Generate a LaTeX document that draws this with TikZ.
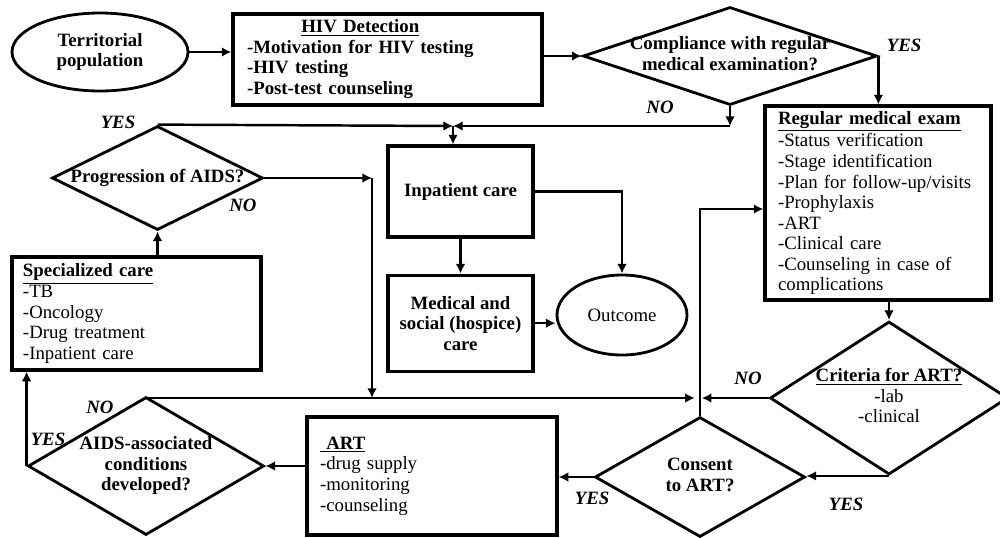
\documentclass[tikz,border=0pt]{standalone}
\usepackage{fontspec}
\setmainfont{Liberation Serif}
\usepackage{tikz}
\usetikzlibrary{arrows.meta,shapes,positioning}

\newcommand{\boxtitle}[1]{\underline{\textbf{#1}}}
\newcommand{\dlines}[1]{\makebox[0pt]{\begin{tabular}{@{}c@{}}#1\end{tabular}}}

\begin{document}
\fontsize{10.7}{11.7}\selectfont
\begin{tikzpicture}[
        x=0.2mm, y=-0.2mm,
        >={Latex[length=5.5pt,width=5.5pt]},
        every path/.style={line width=1.4pt},
        listbox/.style={draw, line width=1.8pt, align=left, inner ysep=0pt},
        block/.style={draw, line width=1.8pt, align=center, font=\bfseries, inner sep=0pt},
        terminal/.style={draw, ellipse, line width=1.6pt, align=center, inner sep=0pt},
        decision/.style={draw, diamond, line width=1.6pt, inner sep=0pt, font=\bfseries},
        answer/.style={font=\bfseries\itshape}
    ]
  \useasboundingbox (0,0) rectangle (1000,537);

  % Nodes
  \node (pop) [terminal, font=\bfseries, minimum width=35.2mm, minimum height=15.6mm] at (100,52) {Territorial\\population};
  \node (hiv) [listbox, font=\bfseries, text width=56.2mm, inner xsep=2.8mm, minimum height=18.2mm] at (387.5,59.5)
    {\begin{tabular}{@{}l@{}}\multicolumn{1}{@{}c@{}}{\underline{HIV Detection}}\\-Motivation for HIV testing\\-HIV testing\\-Post-test counseling\end{tabular}};
  \node (comp) [decision, minimum width=58.8mm, minimum height=19.6mm] at (730,56) {\dlines{Compliance with regular\\medical examination?}};
  \node (reg) [listbox, text width=40mm, inner xsep=2.6mm, minimum height=38.8mm] at (878,203)
    {\boxtitle{Regular medical exam}\\-Status verification\\-Stage identification\\-Plan for follow-up/visits\\-Prophylaxis\\-ART\\-Clinical care\\-Counseling in case of\\complications};
  \node (prog) [decision, minimum width=42.2mm, minimum height=20.8mm] at (157.5,178) {\dlines{Progression of AIDS?}};
  \node (spec) [listbox, text width=45.4mm, inner xsep=2.2mm, minimum height=22.6mm] at (136.5,313.5)
    {\boxtitle{Specialized care}\\-TB\\-Oncology\\-Drug treatment\\-Inpatient care};
  \node (inp) [block, minimum width=29mm, minimum height=18.2mm] at (460.5,191.5) {Inpatient care};
  \node (med) [block, minimum width=29mm, minimum height=19.2mm, below=7mm of inp] {Medical and\\social (hospice)\\care};
  \node (out) [terminal, minimum width=26mm, minimum height=16mm] at (622,315) {Outcome};
  \node (crit) [decision, minimum width=47.6mm, minimum height=30.6mm] at (889,398)
    {\dlines{\boxtitle{Criteria for ART?}\\\mdseries -lab\\\mdseries -clinical}};
  \node (cons) [decision, minimum width=42mm, minimum height=24mm] at (700,477) {\dlines{Consent\\to ART?}};
  \node (art) [listbox, text width=44.8mm, inner xsep=2.6mm, minimum height=23.6mm] at (432,476)
    {\boxtitle{\ ART}\\-drug supply\\-monitoring\\-counseling};
  \node (aids) [decision, minimum width=47.2mm, minimum height=27.6mm] at (146,466) {\dlines{AIDS-associated\\conditions\\developed?}};

  % Answers
  \node (compyes) [answer] at (904,45) {YES};
  \node (compno) [answer] at (660,107) {NO};
  \node (progyes) [answer] at (118,122) {YES};
  \node (progno) [answer] at (243,205) {NO};
  \node (aidsno) [answer] at (100,407) {NO};
  \node (aidsyes) [answer] at (48,439) {YES};
  \node (consyes) [answer] at (592,498) {YES};
  \node (crityes) [answer] at (846,504) {YES};
  \node (critno) [answer] at (748,378) {NO};

  % Junctions
  \coordinate (jtop) at (453,126);
  \coordinate (jleft) at (372,398);
  \coordinate (jmid) at (700,398);
  \coordinate (jreg) at (700,209);

  % Connectors
  \draw[->] (pop.east) -- (pop.east -| hiv.west);
  \draw[->] (hiv.east |- comp.west) -- (comp.west);
  \draw[->] (comp.east) -- (comp.east |- reg.north);
  \draw[->] (comp.south) -- (comp.south |- jtop);
  \draw[->] (comp.south |- jtop) -- (jtop);
  \draw[->] (prog.north) -- (jtop);
  \draw[->] (jtop) -- (jtop |- inp.north);
  \draw[->] (prog.east) -- (prog.east -| jleft);
  \draw[->] (prog.east -| jleft) -- (jleft);
  \draw[->] (spec.north -| prog.south) -- (prog.south);
  \draw[->] (aids.west) -- (aids.west |- spec.south);
  \draw[->, shorten >=3pt] (aids.north |- jmid) -- (jmid);
  \draw[->, shorten >=1pt] (crit.west) -- (jmid);
  \draw[->] (cons.north) -- (jreg) -- (jreg -| reg.west);
  \draw[->] (reg.south -| crit.north) -- (crit.north);
  \draw[->] (crit.south) -- (crit.south -| cons.east);
  \draw[->] (cons.west) -- (cons.west -| art.east);
  \draw[->] (art.west |- aids.east) -- (aids.east);
  \draw[->] (inp.south) -- (med.north);
  \draw[->] (inp.east) -| (out.north);
  \draw[->] (med.east) -- (med.east -| out.west);
\end{tikzpicture}
\end{document}
